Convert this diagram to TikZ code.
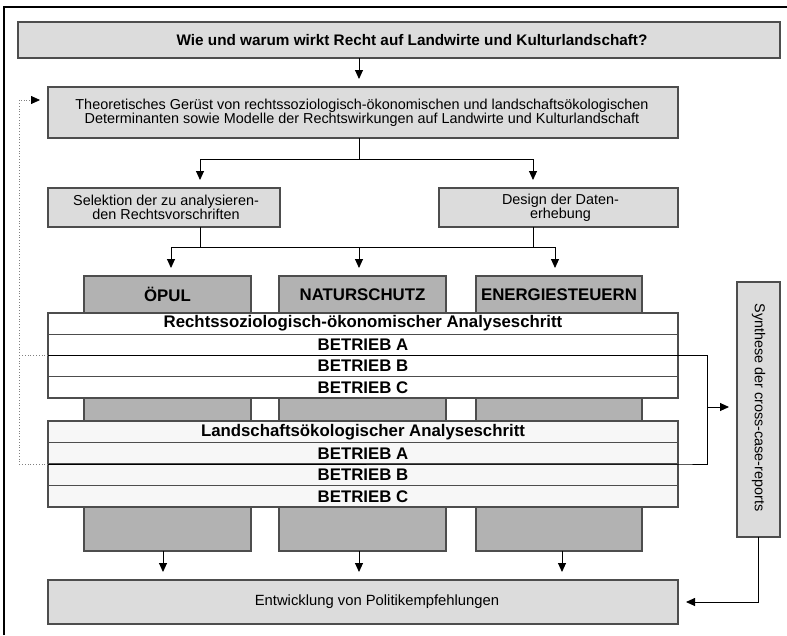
\documentclass[tikz,border=0pt]{standalone}
\usepackage{fontspec}
\setmainfont{Liberation Sans}
\usetikzlibrary{arrows.meta,calc}

\definecolor{boxgray}{HTML}{DCDCDC}
\definecolor{colgray}{HTML}{B2B2B2}
\definecolor{edgegray}{HTML}{4D4D4D}
\definecolor{bandlight}{HTML}{F7F7F7}

\tikzset{
  base/.style={draw=edgegray, line width=1.2pt, outer sep=0pt, inner sep=0pt, rectangle},
  lightbox/.style={base, fill=boxgray},
  colbox/.style={base, fill=colgray, minimum height=275},
  rowU/.style={base, fill=white, minimum width=630, minimum height=21.25, font=\fontsize{16.8}{18}\selectfont\bfseries},
  rowL/.style={base, fill=bandlight, minimum width=630, minimum height=21.5, font=\fontsize{16.8}{18}\selectfont\bfseries},
  regular/.style={inner sep=0pt, align=center, font=\fontsize{14.4}{12.7}\selectfont},
  boldlabel/.style={inner sep=0pt, font=\fontsize{16.8}{18}\selectfont\bfseries},
  conn/.style={line width=0.9pt, black},
  arr/.style={conn, -{Triangle[length=9pt,width=8pt]}, shorten >=8pt},
  dots/.style={line width=0.8pt, gray, dotted},
}

\begin{document}
\begin{tikzpicture}[x=1pt,y=-1pt]
\useasboundingbox (0,0) rectangle (787,635);

% outer frame (only top and left visible)
\draw[line width=1.3pt] (4,635) -- (4,7) -- (787,7);

% top question
\node[lightbox, minimum width=762, minimum height=36] (q) at (399,40) {};
\node[inner sep=0pt, font=\fontsize{15.3}{17}\selectfont\bfseries] (qt) at (412,40) {Wie und warum wirkt Recht auf Landwirte und Kulturlandschaft?};

% theory box
\node[lightbox, minimum width=630, minimum height=51] (theo) at (363,112.5) {};
\node[regular] (theot) at (362,112.5) {Theoretisches Gerüst von rechtssoziologisch-ökonomischen und landschaftsökologischen\\Determinanten sowie Modelle der Rechtswirkungen auf Landwirte und Kulturlandschaft};

% selection / design
\node[lightbox, minimum width=232, minimum height=39] (sel) at (164,207.5) {};
\node[regular] (selt) at (166,207.5) {Selektion der zu analysieren-\\den Rechtsvorschriften};
\node[lightbox, minimum width=239, minimum height=39] (des) at (558.5,207.5) {};
\node[regular] (dest) at (560.5,207.5) {Design der Daten-\\erhebung};

% columns
\node[colbox, minimum width=167] (c1) at (167.5,413.5) {};
\node[colbox, minimum width=167] (c2) at (362.5,413.5) {};
\node[colbox, minimum width=166] (c3) at (559,413.5) {};
\node[boldlabel] (c1t) at (167.5,294.5) {ÖPUL};
\node[boldlabel] (c2t) at (362.5,294.5) {NATURSCHUTZ};
\node[boldlabel] (c3t) at (559,294.5) {ENERGIESTEUERN};

% upper band
\node[rowU] (uh) at (363,323.625) {Rechtssoziologisch-ökonomischer Analyseschritt};
\node[rowU] (ua) at (363,344.875) {BETRIEB A};
\node[rowU] (ub) at (363,366.125) {BETRIEB B};
\node[rowU] (uc) at (363,387.375) {BETRIEB C};

% lower band
\node[rowL] (lh) at (363,431.75) {Landschaftsökologischer Analyseschritt};
\node[rowL] (la) at (363,453.25) {BETRIEB A};
\node[rowL] (lb) at (363,474.75) {BETRIEB B};
\node[rowL] (lc) at (363,496.25) {BETRIEB C};

% synthesis
\node[lightbox, minimum width=43, minimum height=255] (syn) at (758.5,409.5) {};
\node[regular, rotate=-90] (synt) at (758.5,407.5) {Synthese der cross-case-reports};

% bottom
\node[lightbox, minimum width=630, minimum height=44] (bot) at (363,602) {};
\node[inner sep=0pt, font=\fontsize{14.8}{16}\selectfont] (bott) at (377,602) {Entwicklung von Politikempfehlungen};

% helper coordinates
\coordinate (mx) at (359,0);
\coordinate (sx) at (200,0);
\coordinate (dx) at (533,0);
\coordinate (j1) at (0,159);
\coordinate (j2) at (0,247);
\coordinate (a1) at (171,0);
\coordinate (a3) at (555,0);
\coordinate (b1) at (163,0);
\coordinate (b3) at (562,0);
\coordinate (rx) at (707,407);
\coordinate (lx) at (19,100);

% connectors
\draw[arr] (q.south -| mx) -- (theo.north -| mx);
\draw[conn] (theo.south -| mx) -- (j1 -| mx);
\draw[arr] (j1 -| mx) -| (sel.north -| sx);
\draw[arr] (j1 -| mx) -| (des.north -| dx);

\draw[conn] (sel.south -| sx) -- (j2 -| sx);
\draw[conn] (des.south -| dx) -- (j2 -| dx);
\draw[arr] (j2 -| mx) -| (c1.north -| a1);
\draw[arr] (j2 -| mx) -| (c3.north -| a3);
\draw[arr] (j2 -| mx) -- (c2.north -| mx);

\draw[arr] (c1.south -| b1) -- (bot.north -| b1);
\draw[arr] (c2.south -| mx) -- (bot.north -| mx);
\draw[arr] (c3.south -| b3) -- (bot.north -| b3);

% right collector to synthesis
\draw[conn] (ua.south west) -- (ua.south east) -- (ua.south east -| rx) -- (la.south east -| rx) -- (la.south east) -- (la.south west);
\draw[arr] (rx) -- (rx -| syn.west);
\draw[arr] (syn.south) |- (bot.east);

% left dotted feedback
\draw[dots] (ua.south west) -- (ua.south west -| lx);
\draw[dots, -{Triangle[length=9pt,width=8pt,black]}, shorten >=8pt] (la.south west) -| (lx) -- (lx -| theo.west);
\end{tikzpicture}
\end{document}
